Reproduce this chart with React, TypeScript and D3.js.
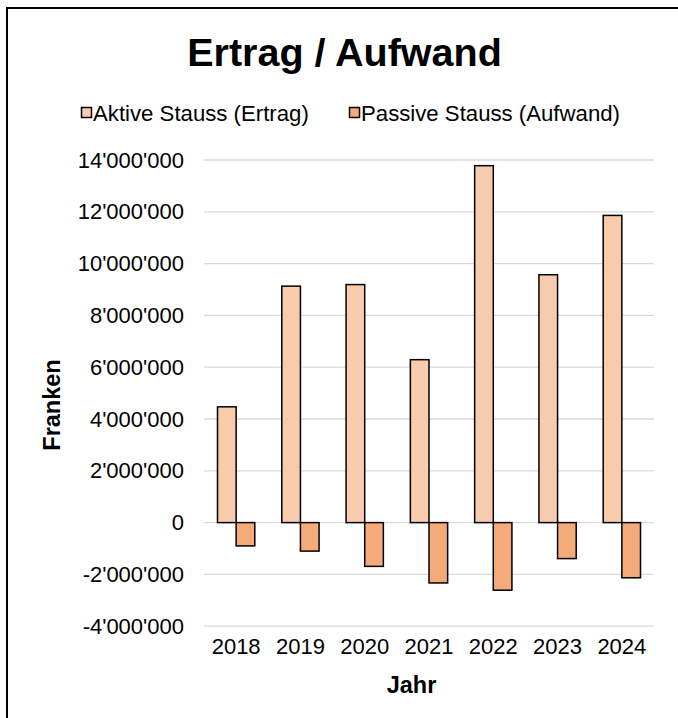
import React from 'react';
import * as d3 from 'd3';

const years = ['2018', '2019', '2020', '2021', '2022', '2023', '2024'];
const aktive = [4470000, 9130000, 9190000, 6290000, 13780000, 9570000, 11860000];
const passive = [-900000, -1100000, -1690000, -2330000, -2610000, -1390000, -2130000];
const yTicks = [-4000000, -2000000, 0, 2000000, 4000000, 6000000, 8000000, 10000000, 12000000, 14000000];
const seriesNames = ['Aktive Stauss (Ertrag)', 'Passive Stauss (Aufwand)'];

const W = 678;
const H = 718;
const font = '"Liberation Sans", Arial, sans-serif';
const colPos = '#F8CBAD';
const colNeg = '#F4AA79';

const fmt = d3.formatLocale({
  decimal: '.',
  thousands: "'",
  grouping: [3],
  currency: ['', ''],
  minus: '-',
}).format(',');

const App = () => {
  const x = d3.scaleBand().domain(years).range([204, 654]);
  const y = d3.scaleLinear().domain([-4000000, 14000000]).range([626.2, 160]);
  const barW = x.bandwidth() * 0.29;

  return (
    <div style={{ position: 'absolute', left: 0, top: 0 }}>
      <svg width={W} height={H} style={{ display: 'block', fontFamily: font }}>
        <rect x={0} y={0} width={W} height={H} fill="#fff" />
        {/* Rahmen */}
        <rect x={7} y={8} width={W + 10} height={H + 10} fill="none" stroke="#000" strokeWidth={2} />

        <text x={344.5} y={66} textAnchor="middle" fontSize={39.5} fontWeight="bold" fill="#000">
          Ertrag / Aufwand
        </text>

        {/* Legende */}
        {seriesNames.map((name, i) => {
          const lx = i === 0 ? 81 : 349;
          return (
            <g key={name}>
              <rect x={lx + 0.5} y={107.5} width={10} height={10} fill={i === 0 ? colPos : colNeg} stroke="#000" strokeWidth={1.5} />
              <text x={lx + 12} y={121} fontSize={22.2} fill="#000">{name}</text>
            </g>
          );
        })}

        {/* Gitterlinien */}
        {yTicks.map((t) => (
          <g key={t}>
            <line x1={204} x2={654} y1={y(t)} y2={y(t)} stroke="#d9d9d9" strokeWidth={1.3} />
            <text x={184} y={y(t) + 7.5} textAnchor="end" fontSize={22} fill="#000">
              {fmt(t)}
            </text>
          </g>
        ))}

        {/* Balken */}
        {years.map((yr, i) => {
          const c = x(yr)! + x.bandwidth() / 2;
          return (
            <g key={yr}>
              <rect x={c - barW} y={y(aktive[i])} width={barW} height={y(0) - y(aktive[i])} fill={colPos} stroke="#000" strokeWidth={1.5} />
              <rect x={c} y={y(0)} width={barW} height={y(passive[i]) - y(0)} fill={colNeg} stroke="#000" strokeWidth={1.5} />
              <text x={c} y={654} textAnchor="middle" fontSize={22} fill="#000">{yr}</text>
            </g>
          );
        })}

        <text transform="translate(60,405) rotate(-90)" textAnchor="middle" fontSize={23.5} fontWeight="bold" fill="#000">
          Franken
        </text>
        <text x={411.5} y={693} textAnchor="middle" fontSize={23.5} fontWeight="bold" fill="#000">
          Jahr
        </text>
      </svg>
    </div>
  );
};

export default App;
